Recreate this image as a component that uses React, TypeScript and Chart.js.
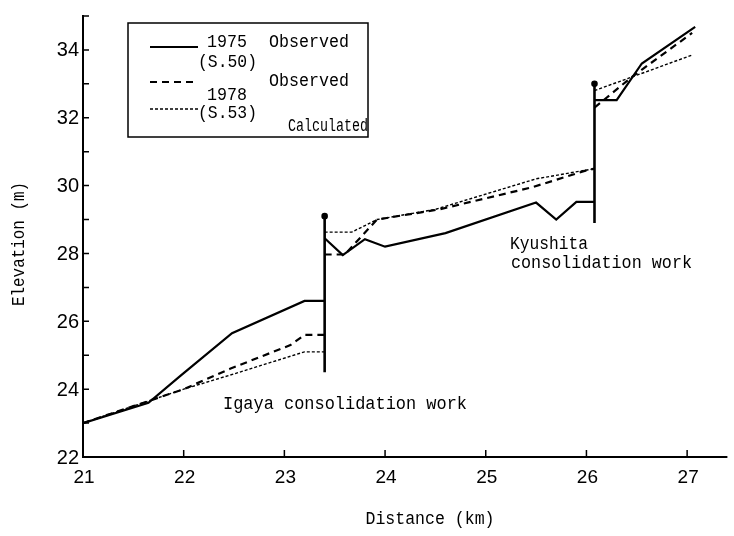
import React, { useEffect, useRef } from "react";
import { Chart, registerables } from "chart.js";

Chart.register(...registerables);

// Distance along the river (km) and bed elevation (m).
// null marks the break at a consolidation work.
const distance1975 = [21.0, 21.65, 21.97, 22.48, 23.2, 23.4, null, 23.4, 23.58, 23.8, 24.0, 24.6, 25.5, 25.7, 25.9, 26.08, null, 26.08, 26.3, 26.55, 27.08];
const elevation1975 = [23.0, 23.6, 24.4, 25.65, 26.6, 26.6, null, 28.45, 27.95, 28.42, 28.2, 28.6, 29.5, 29.0, 29.52, 29.52, null, 32.52, 32.52, 33.6, 34.68];

const distance1978 = [21.0, 21.5, 22.0, 22.46, 23.06, 23.2, 23.4, null, 23.4, 23.6, 23.92, 24.54, 25.46, 26.0, 26.08, null, 26.08, 26.45, 27.05];
const elevation1978 = [23.0, 23.5, 24.0, 24.6, 25.3, 25.6, 25.6, null, 27.97, 27.97, 29.0, 29.3, 29.95, 30.45, 30.5, null, 32.3, 33.2, 34.5];

const distanceCalc = [21.0, 21.5, 22.0, 22.5, 23.2, 23.4, null, 23.4, 23.67, 23.92, 24.5, 25.5, 26.08, null, 26.08, 27.05];
const elevationCalc = [23.0, 23.5, 24.0, 24.45, 25.1, 25.1, null, 28.63, 28.63, 29.0, 29.3, 30.2, 30.5, null, 32.8, 33.85];

const igayaWorkDistance = [23.4, 23.4];
const igayaWorkElevation = [24.5, 29.1];
const kyushitaWorkDistance = [26.08, 26.08];
const kyushitaWorkElevation = [28.9, 33.0];

const xTickValues = [21, 22, 23, 24, 25, 26, 27];
const yTickValues = [22, 23, 24, 25, 26, 27, 28, 29, 30, 31, 32, 33, 34, 35];
const yLabelValues = [22, 24, 26, 28, 30, 32, 34];

const xTitle = "Distance (km)";
const yTitle = "Elevation (m)";
const igayaLabel = "Igaya consolidation work";
const kyushitaLabel = ["Kyushita", "consolidation work"];
const legendYears = [["1975", "(S.50)"], ["1978", "(S.53)"]];
const legendKinds = ["Observed", "Observed", "Calculated"];

const MONO = "'Liberation Mono', 'DejaVu Sans Mono', monospace";
const SANS = "'Liberation Sans', Arial, sans-serif";

function pts(xs: (number | null)[], ys: (number | null)[]) {
  return xs.map((x, i) => ({ x: x as any, y: ys[i] as any }));
}

function txt(ctx: CanvasRenderingContext2D, s: string, x: number, y: number, w: number, size = 18) {
  ctx.font = `${size}px ${MONO}`;
  ctx.textAlign = "left";
  ctx.textBaseline = "middle";
  ctx.fillText(s, x, y, w);
}

const decorPlugin = {
  id: "decor",
  afterDraw(chart: any) {
    const ctx: CanvasRenderingContext2D = chart.ctx;
    const xs = chart.scales.x;
    const ys = chart.scales.y;
    const { left, right, top, bottom } = chart.chartArea;
    ctx.save();
    ctx.strokeStyle = "#000";
    ctx.fillStyle = "#000";
    ctx.setLineDash([]);
    // axes
    ctx.lineWidth = 2;
    ctx.beginPath();
    ctx.moveTo(left, top - 1);
    ctx.lineTo(left, bottom);
    ctx.lineTo(right, bottom);
    ctx.stroke();
    // inward ticks
    ctx.lineWidth = 1.5;
    ctx.beginPath();
    yTickValues.forEach((v) => {
      const py = ys.getPixelForValue(v);
      ctx.moveTo(left, py);
      ctx.lineTo(left + 6, py);
    });
    xTickValues.forEach((v) => {
      const px = xs.getPixelForValue(v);
      ctx.moveTo(px, bottom);
      ctx.lineTo(px, bottom - 7);
    });
    ctx.stroke();

    // tick labels
    ctx.font = `20px ${SANS}`;
    ctx.textAlign = "right";
    ctx.textBaseline = "middle";
    yLabelValues.forEach((v) => {
      ctx.fillText(String(v), left - 4, ys.getPixelForValue(v) + 1);
    });
    ctx.font = `19px ${SANS}`;
    ctx.textAlign = "center";
    xTickValues.forEach((v) => {
      ctx.fillText(String(v), xs.getPixelForValue(v) + 1, bottom + 21);
    });

    // axis titles
    ctx.save();
    ctx.translate(19, 244);
    ctx.rotate(-Math.PI / 2);
    ctx.font = `18px ${MONO}`;
    ctx.textAlign = "center";
    ctx.textBaseline = "middle";
    ctx.fillText(yTitle, 0, 0, 124);
    ctx.restore();
    ctx.font = `18px ${MONO}`;
    ctx.textAlign = "center";
    ctx.textBaseline = "middle";
    ctx.fillText(xTitle, 430, 519, 129);

    // annotations
    txt(ctx, igayaLabel, 223, 404, 244);
    txt(ctx, kyushitaLabel[0], 510, 244, 78);
    txt(ctx, kyushitaLabel[1], 511, 263, 181);

    // legend
    ctx.lineWidth = 1.5;
    ctx.strokeRect(128, 23, 240, 114);
    ctx.lineWidth = 2.2;
    ctx.setLineDash([]);
    ctx.beginPath();
    ctx.moveTo(150, 47);
    ctx.lineTo(198, 47);
    ctx.stroke();
    ctx.setLineDash([7, 5]);
    ctx.beginPath();
    ctx.moveTo(150, 82);
    ctx.lineTo(198, 82);
    ctx.stroke();
    ctx.lineWidth = 1.4;
    ctx.setLineDash([3, 2]);
    ctx.beginPath();
    ctx.moveTo(150, 109);
    ctx.lineTo(198, 109);
    ctx.stroke();
    ctx.setLineDash([]);
    txt(ctx, legendYears[0][0], 207, 42, 40);
    txt(ctx, legendYears[0][1], 198, 62, 59);
    txt(ctx, legendKinds[0], 269, 42, 80);
    txt(ctx, legendKinds[1], 269, 81, 80);
    txt(ctx, legendYears[1][0], 207, 95, 40);
    txt(ctx, legendYears[1][1], 198, 113, 59);
    txt(ctx, legendKinds[2], 288, 126, 80);
    ctx.restore();
  },
};

export default function App() {
  const ref = useRef<HTMLCanvasElement | null>(null);
  useEffect(() => {
    document.body.style.margin = "0";
    const canvas = ref.current!;
    const chart = new Chart(canvas, {
      type: "scatter",
      data: {
        datasets: [
          {
            label: "1975 Observed",
            data: pts(distance1975, elevation1975),
            showLine: true,
            borderColor: "#000",
            borderWidth: 2.2,
            pointRadius: 0,
            spanGaps: false,
          },
          {
            label: "1978 Observed",
            data: pts(distance1978, elevation1978),
            showLine: true,
            borderColor: "#000",
            borderWidth: 2.2,
            borderDash: [7, 5],
            pointRadius: 0,
            spanGaps: false,
          },
          {
            label: "Calculated",
            data: pts(distanceCalc, elevationCalc),
            showLine: true,
            borderColor: "#000",
            borderWidth: 1.4,
            borderDash: [3, 2],
            pointRadius: 0,
            spanGaps: false,
          },
          {
            label: "Igaya consolidation work",
            data: pts(igayaWorkDistance, igayaWorkElevation),
            showLine: true,
            borderColor: "#000",
            backgroundColor: "#000",
            borderWidth: 2.6,
            pointRadius: [0, 2],
          },
          {
            label: "Kyushita consolidation work",
            data: pts(kyushitaWorkDistance, kyushitaWorkElevation),
            showLine: true,
            borderColor: "#000",
            backgroundColor: "#000",
            borderWidth: 2.6,
            pointRadius: [0, 2],
          },
        ],
      },
      options: {
        animation: false,
        responsive: false,
        devicePixelRatio: 1,
        layout: { padding: { top: 16, right: 5, left: 0, bottom: 0 } },
        plugins: { legend: { display: false }, tooltip: { enabled: false } },
        scales: {
          x: {
            type: "linear",
            min: 21,
            max: 27.4,
            grid: { display: false },
            border: { display: false },
            ticks: { display: false, stepSize: 1 },
            afterFit: (s: any) => {
              s.height = 79;
            },
          },
          y: {
            type: "linear",
            min: 22,
            max: 35,
            grid: { display: false },
            border: { display: false },
            ticks: { display: false, stepSize: 1 },
            afterFit: (s: any) => {
              s.width = 83;
            },
          },
        },
      },
      plugins: [decorPlugin],
    });
    return () => chart.destroy();
  }, []);
  return (
    <div style={{ width: 734, height: 536, background: "#fff" }}>
      <canvas ref={ref} width={734} height={536} />
    </div>
  );
}
